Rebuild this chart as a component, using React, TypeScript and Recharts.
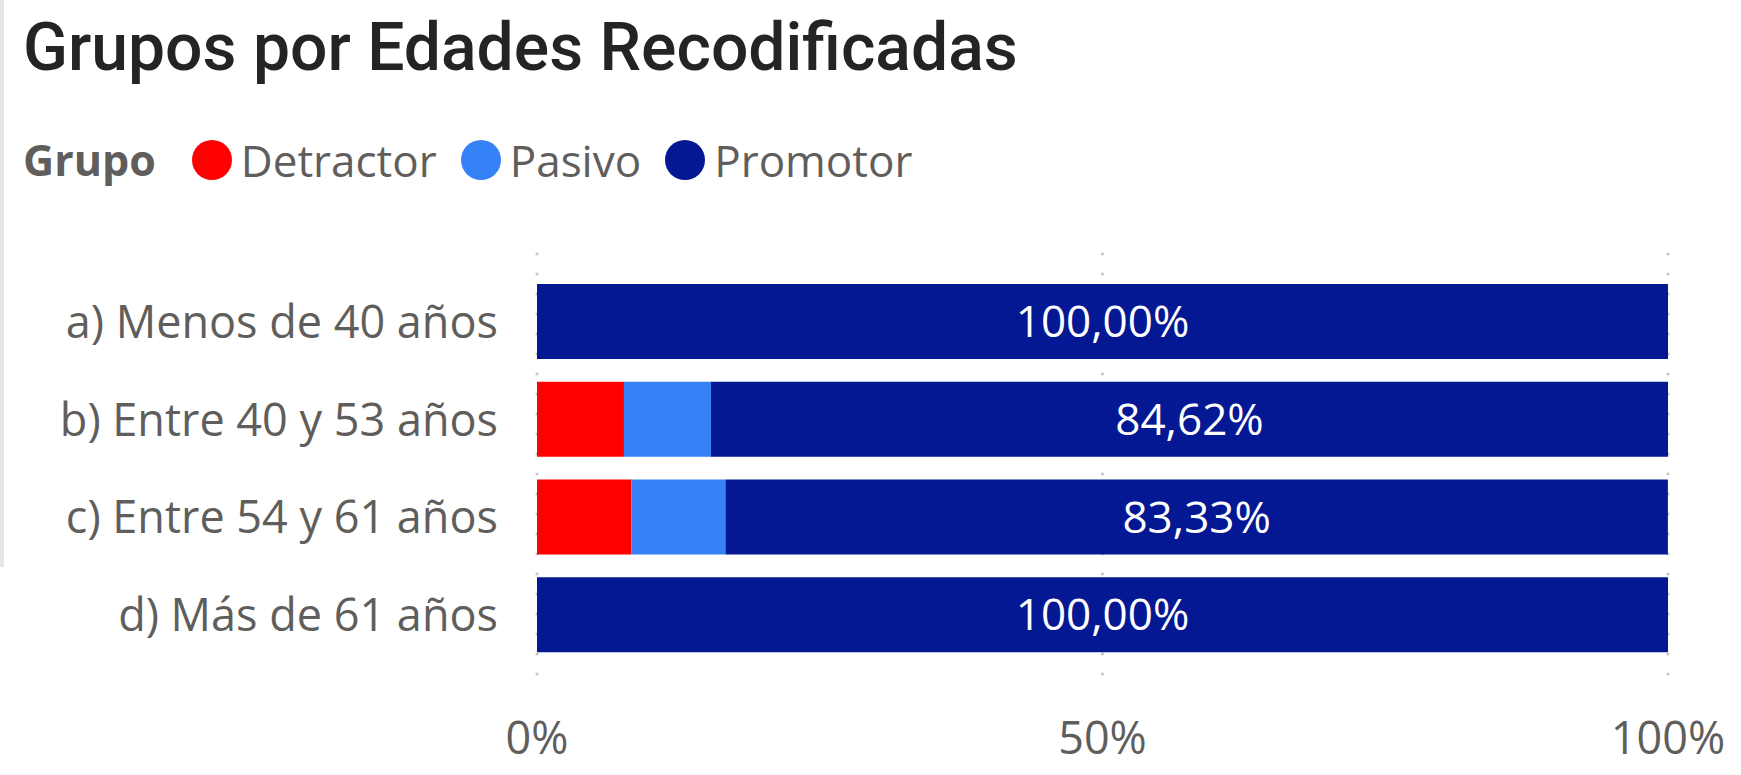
import React from 'react';
import { BarChart, Bar, XAxis, YAxis, CartesianGrid, Legend, LabelList } from 'recharts';

const title = 'Grupos por Edades Recodificadas';
const legendTitle = 'Grupo';
const categories = ['a) Menos de 40 años', 'b) Entre 40 y 53 años', 'c) Entre 54 y 61 años', 'd) Más de 61 años'];
const detractor = [0, 7.69, 8.33, 0];
const pasivo = [0, 7.69, 8.33, 0];
const promotor = [100, 84.62, 83.33, 100];
const xTicks = [0, 50, 100];
const seriesNames = ['Detractor', 'Pasivo', 'Promotor'];
const seriesColors = ['#FF0000', '#3781F6', '#041893'];

const data = categories.map((name, i) => ({
  name,
  Detractor: detractor[i],
  Pasivo: pasivo[i],
  Promotor: promotor[i],
}));

const FONT = "'Open Sans', 'Noto Sans', sans-serif";
const GREY = '#605E5C';

const renderLegend = (props: any) => {
  const payload = props.payload || [];
  return (
    <div style={{ display: 'flex', alignItems: 'center', height: 60, lineHeight: '60px', fontFamily: FONT, fontSize: 44, color: GREY, whiteSpace: 'nowrap', paddingLeft: 23 }}>
      <span style={{ fontWeight: 700, fontSize: 43, marginRight: 36 }}>{legendTitle}</span>
      {payload.map((p: any, i: number) => (
        <span key={i} style={{ display: 'flex', alignItems: 'center', marginRight: 24 }}>
          <span style={{ width: 40, height: 40, borderRadius: 20, background: p.color, display: 'inline-block', marginRight: 9 }} />
          <span>{p.value}</span>
        </span>
      ))}
    </div>
  );
};

const gridLine = (p: any) => (
  <line
    key={`g-${p.x1}`}
    x1={p.x1}
    y1={p.y1}
    x2={p.x2}
    y2={p.y2}
    stroke="#C8C8C8"
    strokeWidth={3.2}
    strokeDasharray="0 20"
    strokeLinecap="round"
  />
);

export default function App() {
  return (
    <div style={{ position: 'absolute', left: 0, top: 0, width: 1741, height: 775, background: '#fff', overflow: 'hidden' }}>
      <div style={{ position: 'absolute', left: 0, top: 0, width: 4, height: 567, background: '#E6E6E6' }} />
      <svg width={1741} height={110} style={{ position: 'absolute', left: 0, top: 0 }}>
        <text x={23} y={70} fontFamily="Roboto, sans-serif" fontWeight={500} fontSize={66} fill="#252423">{title}</text>
      </svg>
      <BarChart
        width={1741}
        height={775}
        data={data}
        layout="vertical"
        margin={{ top: 254, right: 73, bottom: 0, left: 0 }}
        barSize={75}
      >
        <CartesianGrid horizontal={false} vertical={gridLine} />
        <XAxis
          type="number"
          domain={[0, 100]}
          ticks={xTicks}
          allowDataOverflow
          axisLine={false}
          tickLine={false}
          tickSize={0}
          tickMargin={47}
          height={100}
          tickFormatter={(v: number) => `${v}%`}
          tick={{ fill: GREY, fontSize: 45, fontFamily: FONT }}
        />
        <YAxis
          type="category"
          dataKey="name"
          width={537}
          axisLine={false}
          tickLine={false}
          tickSize={0}
          tickMargin={39}
          padding={{ top: 19, bottom: 11 }}
          tick={{ fill: GREY, fontSize: 45, fontFamily: FONT }}
        />
        <Legend
          verticalAlign="top"
          align="left"
          content={renderLegend}
          wrapperStyle={{ top: 130, left: 0, width: 1100, height: 0 }}
        />
        {seriesNames.map((s, i) => (
          <Bar key={s} dataKey={s} name={s} stackId="a" fill={seriesColors[i]} legendType="circle" isAnimationActive={false}>
            {s === 'Promotor' ? (
              <LabelList
                dataKey={s}
                position="center"
                fill="#FFFFFF"
                fontSize={44}
                fontFamily={FONT}
                formatter={(v: any) => `${Number(v).toFixed(2).replace('.', ',')}%`}
              />
            ) : null}
          </Bar>
        ))}
      </BarChart>
    </div>
  );
}
